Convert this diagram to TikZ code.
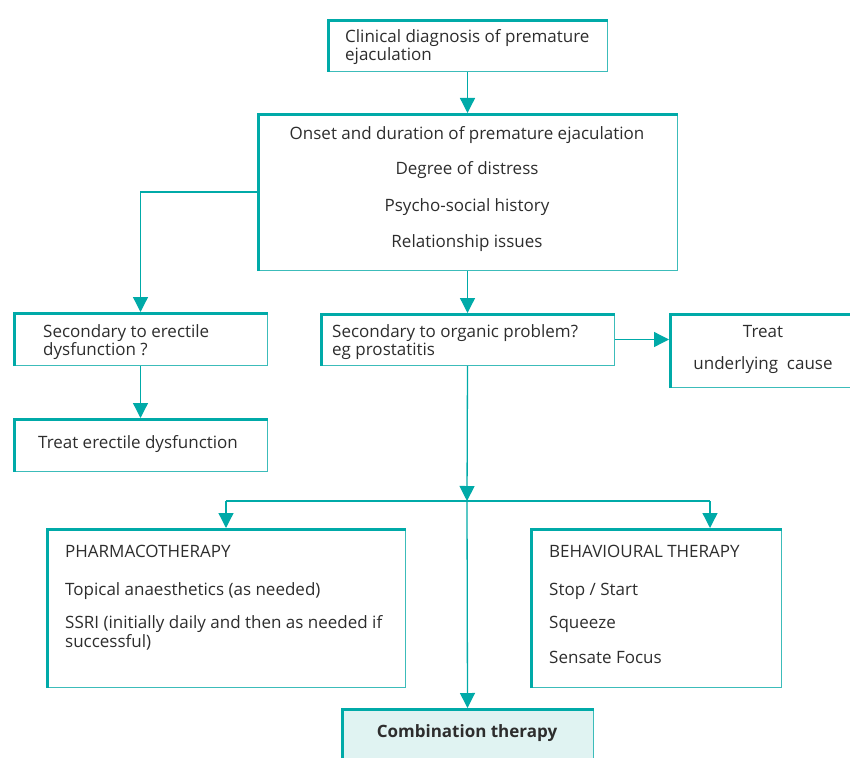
\documentclass[tikz,border=0pt]{standalone}
\usepackage{fontspec}
\setmainfont{Open Sans}
\usetikzlibrary{arrows.meta}
\definecolor{tealc}{RGB}{0,170,168}
\definecolor{teallight}{RGB}{60,188,186}
\definecolor{txtc}{RGB}{45,45,45}
\definecolor{combfill}{RGB}{224,243,242}
\newcommand\tealedge[1]{\draw[thickedge] ([xshift=1.6pt]#1.south west) -- ([xshift=1.6pt,yshift=-1.6pt]#1.north west) -- ([yshift=-1.6pt]#1.north east);}
\begin{document}
\begin{tikzpicture}[x=1pt,y=-1pt,
  box/.style={draw=teallight, line width=1pt, anchor=north west, inner sep=0pt},
  thickedge/.style={draw=tealc, line width=3.6pt},
  txt/.style={text=txtc, font=\fontsize{17}{20}\selectfont, inner sep=0pt},
  conn/.style={draw=tealc, line width=1.3pt},
  arr/.style={conn, -{Triangle[width=15pt,length=15pt]}}
]
\useasboundingbox (0,0) rectangle (850,757);
\clip (0,0) rectangle (850,757);

% boxes
\node[box, minimum width=280pt, minimum height=52pt] (b1) at (327,19) {};
\node[box, minimum width=420pt, minimum height=157pt] (b2) at (257,113) {};
\node[box, minimum width=254pt, minimum height=53pt] (b3) at (13,312) {};
\node[box, minimum width=254pt, minimum height=53pt] (b4) at (13,418) {};
\node[box, minimum width=294pt, minimum height=52pt] (b5) at (320,313) {};
\node[box, minimum width=240pt, minimum height=74pt] (b6) at (669,313) {};
\node[box, minimum width=359pt, minimum height=159pt] (b7) at (46,528) {};
\node[box, minimum width=251pt, minimum height=159pt] (b8) at (530,528) {};
\node[box, fill=combfill, minimum width=252pt, minimum height=80pt] (b9) at (341,708) {};
\foreach \b in {b1,b2,b3,b4,b5,b6,b7,b8,b9} {\tealedge{\b}}

% texts
\node[txt, anchor=base west] (t1a) at (345,43) {Clinical diagnosis of premature};
\node[txt, anchor=base west] (t1b) at (345,61) {ejaculation};
\node[txt, anchor=base] (t2a) at (467,139) {Onset and duration of premature ejaculation};
\node[txt, anchor=base] (t2b) at (467,174) {Degree of distress};
\node[txt, anchor=base] (t2c) at (467,211) {Psycho-social history};
\node[txt, anchor=base] (t2d) at (467,247) {Relationship issues};
\node[txt, anchor=base west] (t3a) at (43,337) {Secondary to erectile};
\node[txt, anchor=base west] (t3b) at (43,355) {dysfunction ?};
\node[txt, anchor=base west] (t4) at (38,448) {Treat erectile dysfunction};
\node[txt, anchor=base west] (t5a) at (332,337) {Secondary to organic problem?};
\node[txt, anchor=base west] (t5b) at (332,355) {eg prostatitis};
\node[txt, anchor=base] (t6a) at (763,337) {Treat};
\node[txt, anchor=base] (t6b) at (763,369) {underlying\ \ cause};
\node[txt, anchor=base west] (t7a) at (65,557) {PHARMACOTHERAPY};
\node[txt, anchor=base west] (t7b) at (65,595) {Topical anaesthetics (as needed)};
\node[txt, anchor=base west] (t7c) at (65,628) {SSRI (initially daily and then as needed if};
\node[txt, anchor=base west] (t7d) at (65,647) {successful)};
\node[txt, anchor=base west] (t8a) at (549,557) {BEHAVIOURAL THERAPY};
\node[txt, anchor=base west] (t8b) at (549,595) {Stop / Start};
\node[txt, anchor=base west] (t8c) at (549,628) {Squeeze};
\node[txt, anchor=base west] (t8d) at (549,663) {Sensate Focus};
\node[txt, anchor=base, font=\fontsize{17}{20}\selectfont\bfseries] (t9) at (467,737) {Combination therapy};

% connectors
\coordinate (j) at (467,501);
\coordinate (jl) at (b7.north |- j);
\coordinate (jr) at (710,501);
\draw[arr] (b1.south) -- (b2.north);
\draw[arr] (b2.west) -| (b3.north);
\draw[arr] (b3.south) -- (b4.north);
\draw[arr] (b2.south) -- (b5.north);
\draw[arr] (b5.east) -- (b5.east -| b6.west);
\draw[arr] (b5.south) -- (j);
\draw[conn] (jl) -- (jr);
\draw[arr] (jl) -- (b7.north);
\draw[arr] (jr) -- (jr |- b8.north);
\draw[arr] (j) -- (b9.north);
\end{tikzpicture}
\end{document}
